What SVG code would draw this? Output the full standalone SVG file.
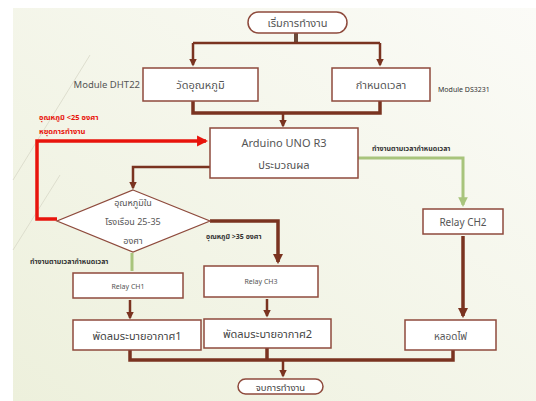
<svg xmlns="http://www.w3.org/2000/svg" width="536" height="401" viewBox="0 0 536 401">
<defs>
<linearGradient id="bg" x1="1" y1="0" x2="0" y2="1">
<stop offset="0" stop-color="#fbfbf7"/>
<stop offset="1" stop-color="#edf0dc"/>
</linearGradient>
<marker id="ab" viewBox="0 0 10 10" refX="8" refY="5" markerWidth="3" markerHeight="3" orient="auto"><path d="M0,0 L10,5 L0,10 z" fill="#7a3320"/></marker>
<marker id="ag" viewBox="0 0 10 10" refX="8" refY="5" markerWidth="3.2" markerHeight="3.2" orient="auto"><path d="M0,0 L10,5 L0,10 z" fill="#a8c47c"/></marker>
<marker id="ar" viewBox="0 0 10 10" refX="8" refY="5" markerWidth="3.2" markerHeight="3.2" orient="auto"><path d="M0,0 L10,5 L0,10 z" fill="#e8140c"/></marker>
</defs>
<style>
.box{fill:#fff;stroke:#8e4a3c;stroke-width:1.5}
.t{font-family:"Noto Sans","Noto Sans Thai",sans-serif;fill:#555;text-anchor:middle}
.c{fill:none;stroke:#7a3320;stroke-width:3.5}
.thin{fill:none;stroke:#7a3320;stroke-width:2.5}
.g{fill:none;stroke:#a8c47c;stroke-width:3}
.r{fill:none;stroke:#e8140c;stroke-width:3.5}
.lbl{font-family:"Noto Sans","Noto Sans Thai",sans-serif;font-weight:bold;font-size:7px;fill:#333}
.rl{font-family:"Noto Sans","Noto Sans Thai",sans-serif;font-weight:bold;font-size:7.5px;fill:#e8140c}
</style>
<rect x="13" y="8" width="523" height="393" fill="url(#bg)"/>
<path d="M90,55 L13,180 M60,175 L13,250" stroke="#d8d8c8" stroke-width="0.8" fill="none"/>

<g id="connectors">
<path d="M296,33 V43" fill="none" stroke="#6b4a3a" stroke-width="4"/>
<path class="thin" d="M193,43 H380" />
<path class="thin" d="M193,43 V65" marker-end="url(#ab)"/>
<path class="thin" d="M380,43 V65" marker-end="url(#ab)"/>
<path class="c" d="M193,101 V113 H380 V101"/>
<path class="thin" d="M283,113 V126" marker-end="url(#ab)"/>
<path class="r" d="M57,219 H37 V141 H206" marker-end="url(#ar)"/>
<path class="thin" d="M210,167 H133 V188" marker-end="url(#ab)"/>
<path class="c" d="M210,221 H278 V262" marker-end="url(#ab)"/>
<path class="g" d="M358,158 H463 V205" marker-end="url(#ag)"/>
<path class="c" d="M463,236 V316" marker-end="url(#ab)"/>
<path class="g" d="M132,253 V271"/>
<path class="thin" d="M130,300 V318" marker-end="url(#ab)"/>
<path class="thin" d="M267,299 V316" marker-end="url(#ab)"/>
<path class="c" d="M130,350 V360 H453 V350 M267,348 V360"/>
<path class="thin" d="M283,360 V376" marker-end="url(#ab)"/>
</g>

<g id="start"><rect class="box" x="248" y="12" width="99" height="21" rx="10.5"/><text class="t" x="297.5" y="27" font-size="11">เริ่มการทำงาน</text></g>
<g id="measure"><rect class="box" x="143" y="68" width="115" height="33"/><text class="t" x="200.5" y="89" font-size="11">วัดอุณหภูมิ</text></g>
<g id="settime"><rect class="box" x="332" y="68" width="98" height="33"/><text class="t" x="381" y="89" font-size="11">กำหนดเวลา</text></g>
<text class="t" x="140" y="88" font-size="9.5" text-anchor="end" style="text-anchor:end">Module DHT22</text>
<text class="t" x="438" y="92" font-size="7" style="text-anchor:start;fill:#333">Module DS3231</text>
<g id="arduino"><rect class="box" x="210" y="128" width="148" height="50"/><text class="t" x="284" y="147" font-size="11">Arduino UNO R3</text><text class="t" x="284" y="169" font-size="11">ประมวณผล</text></g>
<g id="decision"><path class="box" d="M133,190 L210,221 L133,252 L57,221 Z" style="stroke-width:1.2"/><text class="t" x="133" y="206" font-size="9">อุณหภูมิใน</text><text class="t" x="133" y="225" font-size="9">โรงเรือน 25-35</text><text class="t" x="133" y="244" font-size="9">องศา</text></g>
<g id="ch2"><rect class="box" x="423" y="209" width="80" height="25"/><text class="t" x="463" y="226" font-size="10">Relay CH2</text></g>
<g id="ch1"><rect class="box" x="73" y="273" width="110" height="25"/><text class="t" x="128" y="289" font-size="7">Relay CH1</text></g>
<g id="ch3"><rect class="box" x="204" y="266" width="114" height="31"/><text class="t" x="261" y="284" font-size="7">Relay CH3</text></g>
<g id="fan1"><rect class="box" x="73" y="320" width="128" height="30"/><text class="t" x="137" y="340" font-size="11" style="fill:#444">พัดลมระบายอากาศ1</text></g>
<g id="fan2"><rect class="box" x="204" y="319" width="127" height="29"/><text class="t" x="267.5" y="338" font-size="11" style="fill:#444">พัดลมระบายอากาศ2</text></g>
<g id="lamp"><rect class="box" x="405" y="320" width="91" height="30"/><text class="t" x="450.5" y="340" font-size="10">หลอดไฟ</text></g>
<g id="end"><rect class="box" x="238" y="379" width="85" height="15" rx="7.5"/><text class="t" x="280.5" y="390.5" font-size="9.5" style="fill:#444">จบการทำงาน</text></g>

<text class="rl" x="39" y="120">อุณหภูมิ &lt;25 องศา</text>
<text class="rl" x="39" y="134">หยุดการทำงาน</text>
<text class="lbl" x="372" y="151">ทำงานตามเวลากำหนดเวลา</text>
<text class="lbl" x="30" y="264">ทำงานตามเวลากำหนดเวลา</text>
<text class="lbl" x="206" y="239">อุณหภูมิ &gt;35 องศา</text>
</svg>
